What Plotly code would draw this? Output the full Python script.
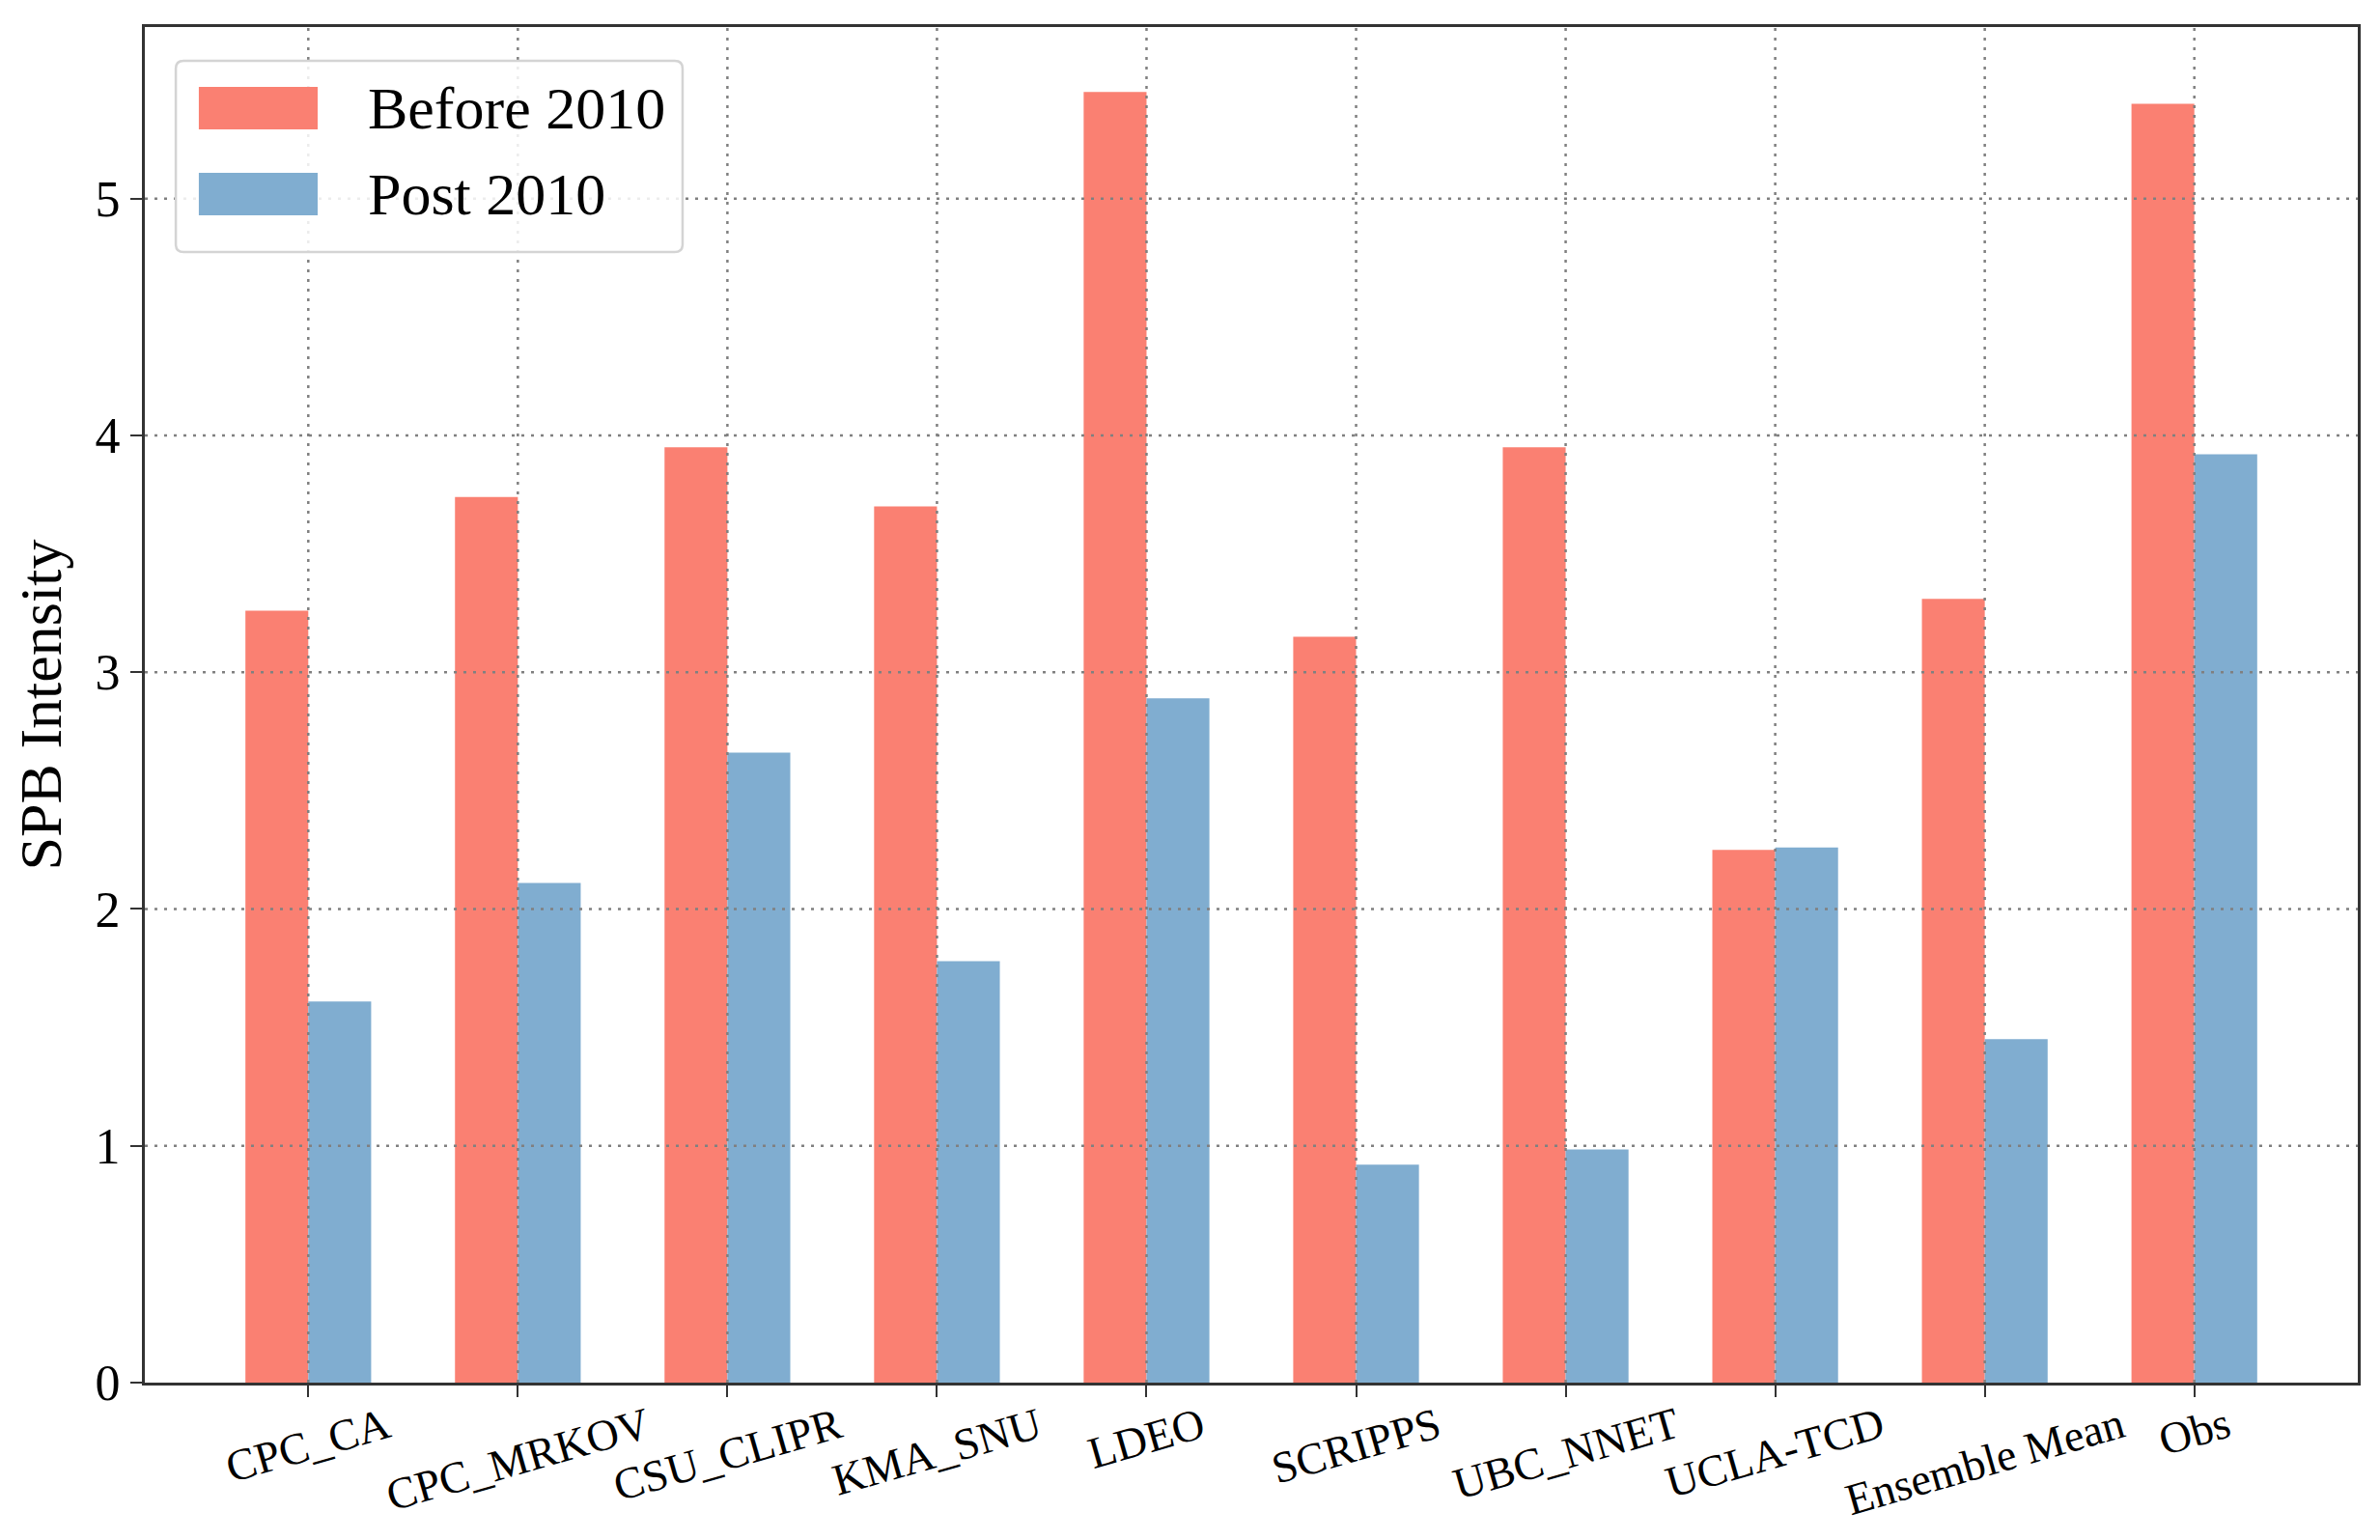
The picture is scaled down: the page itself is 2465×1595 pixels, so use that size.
import plotly.graph_objects as go

categories = ["CPC_CA", "CPC_MRKOV", "CSU_CLIPR", "KMA_SNU", "LDEO", "SCRIPPS",
              "UBC_NNET", "UCLA-TCD", "Ensemble Mean", "Obs"]
before_2010 = [3.26, 3.74, 3.95, 3.70, 5.45, 3.15, 3.95, 2.25, 3.31, 5.40]
post_2010 = [1.61, 2.11, 2.66, 1.78, 2.89, 0.92, 0.985, 2.26, 1.45, 3.92]
series_names = ["Before 2010", "Post 2010"]
y_ticks = [0, 1, 2, 3, 4, 5]

RED = "#FA8072"
BLUE = "#80ADD0"
FONT = "Liberation Serif, Times New Roman, serif"

xpos = list(range(len(categories)))

fig = go.Figure()
fig.add_trace(go.Bar(x=xpos, y=before_2010, name=series_names[0],
                     marker=dict(color=RED, line=dict(width=0)), showlegend=False))
fig.add_trace(go.Bar(x=xpos, y=post_2010, name=series_names[1],
                     marker=dict(color=BLUE, line=dict(width=0)), showlegend=False))

shapes = []
grid_style = dict(color="#808080", width=2.5, dash="3px,7px")
for v in y_ticks[1:]:
    shapes.append(dict(type="line", xref="paper", yref="y", x0=0, x1=1, y0=v, y1=v,
                       line=grid_style, layer="above"))
for xv in xpos:
    shapes.append(dict(type="line", xref="x", yref="paper", x0=xv, x1=xv, y0=0, y1=1,
                       line=grid_style, layer="above"))

# legend box (paper coords)
lx0, lx1, ly0, ly1 = 0.0140, 0.2430, 0.8340, 0.9751
rx, ry = 0.0035, 0.0057
path = (f"M {lx0+rx},{ly0} L {lx1-rx},{ly0} Q {lx1},{ly0} {lx1},{ly0+ry} "
        f"L {lx1},{ly1-ry} Q {lx1},{ly1} {lx1-rx},{ly1} L {lx0+rx},{ly1} "
        f"Q {lx0},{ly1} {lx0},{ly1-ry} L {lx0},{ly0+ry} Q {lx0},{ly0} {lx0+rx},{ly0} Z")
shapes.append(dict(type="path", xref="paper", yref="paper", path=path,
                   line=dict(color="#d4d4d4", width=2.5),
                   fillcolor="rgba(255,255,255,0.85)", layer="above"))
swatches = [(RED, 0.9245, 0.9558), (BLUE, 0.8611, 0.8925)]
for col, y0, y1 in swatches:
    shapes.append(dict(type="rect", xref="paper", yref="paper", x0=0.0244, x1=0.0781,
                       y0=y0, y1=y1, fillcolor=col, line=dict(width=0), layer="above"))

annotations = []
for name, yy in zip(series_names, [0.9402, 0.8768]):
    annotations.append(dict(text=name, xref="paper", yref="paper", x=0.0999, y=yy,
                            xanchor="left", yanchor="middle", showarrow=False,
                            font=dict(family=FONT, size=62, color="black")))
for xv, lab in zip(xpos, categories):
    annotations.append(dict(text=lab, xref="x", yref="paper", x=xv, y=0,
                            xanchor="center", yanchor="top", textangle=-16,
                            yshift=-15, showarrow=False, borderpad=0,
                            font=dict(family=FONT, size=46, color="black")))

fig.update_layout(
    width=2449, height=1579,
    margin=dict(l=142, r=15, t=20, b=155, autoexpand=False),
    paper_bgcolor="white", plot_bgcolor="white",
    barmode="group", bargap=0.4, bargroupgap=0,
    font=dict(family=FONT, size=50, color="black"),
    shapes=shapes, annotations=annotations,
    showlegend=False,
)
fig.update_xaxes(range=[-0.78, 9.78], tickvals=xpos, showticklabels=False,
                 showgrid=False, zeroline=False,
                 showline=True, mirror=True, linecolor="#333333", linewidth=3,
                 ticks="outside", ticklen=12, tickwidth=2, tickcolor="#333333")
fig.update_yaxes(range=[0, 5.7245], tickvals=y_ticks, ticktext=[str(v) for v in y_ticks],
                 showgrid=False, zeroline=False,
                 showline=True, mirror=True, linecolor="#333333", linewidth=3,
                 ticks="outside", ticklen=12, tickwidth=2, tickcolor="#333333",
                 tickfont=dict(family=FONT, size=52, color="black"),
                 title=dict(text="SPB Intensity", standoff=15,
                            font=dict(family=FONT, size=62, color="black")))

fig.write_html("out.html")
